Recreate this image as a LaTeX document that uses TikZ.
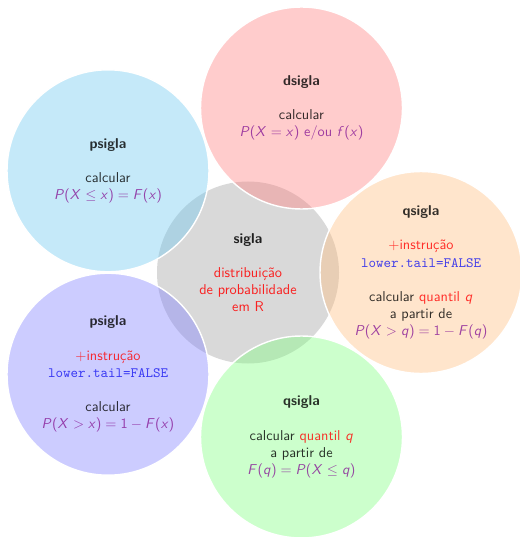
\documentclass[tikz,border=0pt]{standalone}
\usepackage{xcolor}

% sans-serif math letters, digits and delimiters
\DeclareSymbolFont{sfsl}{OT1}{cmss}{m}{sl}
\DeclareSymbolFont{sfup}{OT1}{cmss}{m}{n}
\DeclareMathSymbol{P}{\mathalpha}{sfsl}{`P}
\DeclareMathSymbol{X}{\mathalpha}{sfsl}{`X}
\DeclareMathSymbol{x}{\mathalpha}{sfsl}{`x}
\DeclareMathSymbol{f}{\mathalpha}{sfsl}{`f}
\DeclareMathSymbol{F}{\mathalpha}{sfsl}{`F}
\DeclareMathSymbol{q}{\mathalpha}{sfsl}{`q}
\DeclareMathSymbol{1}{\mathalpha}{sfup}{`1}
\DeclareMathSymbol{(}{\mathopen}{sfup}{"28}
\DeclareMathSymbol{)}{\mathclose}{sfup}{"29}
\DeclareMathSymbol{=}{\mathrel}{sfup}{"3D}

\definecolor{skyc}{RGB}{110,200,240}
\definecolor{mathc}{RGB}{135,25,150}
\definecolor{tailc}{RGB}{20,20,240}

\newcommand{\mth}[1]{\textcolor{mathc}{#1}}
\newcommand{\hl}[1]{\textcolor{red}{#1}}
\newcommand{\tail}{\textcolor{tailc}{\texttt{lower.tail=FALSE}}}

\tikzset{
  hub/.style={circle, fill=black!15, minimum size=127.4pt, inner sep=0pt,
    align=center, font=\sffamily, text opacity=0.85},
  bubble/.style={circle, draw=white, line width=1pt, fill opacity=0.4,
    text opacity=0.8, minimum size=141.4pt, inner sep=0pt,
    align=center, font=\sffamily},
}

\begin{document}
\begin{tikzpicture}[x=0.7pt, y=-0.7pt]
  \useasboundingbox (0,0) rectangle (519,537);

  % central bubble
  \node[hub] (c) at (248,272.5)
    {\textbf{sigla}\\[12pt]
     \hl{distribuição}\\ \hl{de probabilidade}\\ \hl{em R}};

  % surrounding bubbles
  \node[bubble, fill=red!50] (d) at (301.5,108)
    {\textbf{dsigla}\\[12pt]
     calcular\\
     \mth{$P(X=x)$ e/ou $f(x)$}};

  \node[bubble, fill=skyc] (p) at (108,170.8)
    {\textbf{psigla}\\[12pt]
     calcular\\
     \mth{$P(X\leq x)=F(x)$}};

  \node[bubble, fill=orange!50] (qu) at (421,272.5)
    {\textbf{qsigla}\\[12pt]
     \hl{$+$instrução}\\ \tail\\[12pt]
     calcular \hl{quantil $q$}\\
     a partir de\\
     \mth{$P(X>q)=1-F(q)$}};

  \node[bubble, fill=blue!50] (pu) at (108,374.2)
    {\textbf{psigla}\\[12pt]
     \hl{$+$instrução}\\ \tail\\[12pt]
     calcular\\
     \mth{$P(X>x)=1-F(x)$}};

  \node[bubble, fill=green!50] (q) at (301.5,437)
    {\textbf{qsigla}\\[12pt]
     calcular \hl{quantil $q$}\\
     a partir de\\
     \mth{$F(q)=P(X\leq q)$}};
\end{tikzpicture}
\end{document}
